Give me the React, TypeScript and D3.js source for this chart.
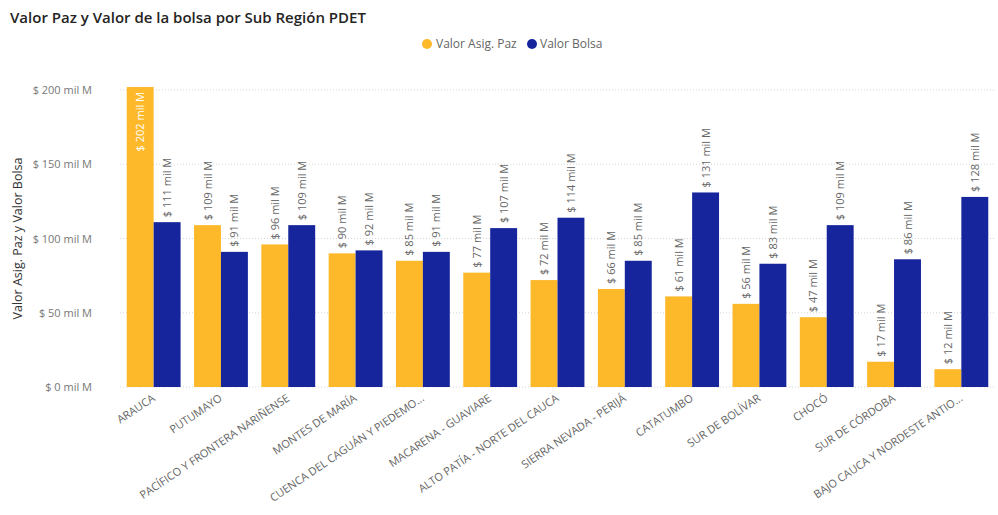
import React from 'react';
import * as d3 from 'd3';

const regions = [
  'ARAUCA',
  'PUTUMAYO',
  'PACÍFICO Y FRONTERA NARIÑENSE',
  'MONTES DE MARÍA',
  'CUENCA DEL CAGUÁN Y PIEDEMO...',
  'MACARENA - GUAVIARE',
  'ALTO PATÍA - NORTE DEL CAUCA',
  'SIERRA NEVADA - PERIJÁ',
  'CATATUMBO',
  'SUR DE BOLÍVAR',
  'CHOCÓ',
  'SUR DE CÓRDOBA',
  'BAJO CAUCA Y NORDESTE ANTIO...',
];
const valorPaz = [202, 109, 96, 90, 85, 77, 72, 66, 61, 56, 47, 17, 12];
const valorBolsa = [111, 91, 109, 92, 91, 107, 114, 85, 131, 83, 109, 86, 128];
const yTicks = [0, 50, 100, 150, 200];
const seriesNames = ['Valor Asig. Paz', 'Valor Bolsa'];

const W = 998;
const H = 515;
const ORANGE = '#FDB92A';
const BLUE = '#16259C';
const FONT = '"Open Sans", "Noto Sans", sans-serif';

const App: React.FC = () => {
  const x = d3.scaleBand<string>()
    .domain(regions)
    .range([120, 995])
    .paddingInner(0.2)
    .paddingOuter(0.1);
  const sub = d3.scaleBand<string>()
    .domain(seriesNames)
    .range([0, x.bandwidth()]);
  const y = d3.scaleLinear().domain([0, 200]).range([387, 90]);

  const fmt = (v: number) => `$ ${v} mil M`;

  const bars = regions.flatMap((r, i) => [
    { r, s: seriesNames[0], v: valorPaz[i], color: ORANGE },
    { r, s: seriesNames[1], v: valorBolsa[i], color: BLUE },
  ]);

  return (
    <svg width={W} height={H} style={{ position: 'absolute', left: 0, top: 0, background: '#fff' }} fontFamily={FONT}>
      <text x={10} y={23} fontSize={15} fontWeight={600} fill="#252423">
        Valor Paz y Valor de la bolsa por Sub Región PDET
      </text>

      {/* legend */}
      <g fontSize={12} fill="#666">
        <circle cx={427} cy={44} r={5} fill={ORANGE} />
        <text x={436} y={48}>{seriesNames[0]}</text>
        <circle cx={532} cy={44} r={5} fill={BLUE} />
        <text x={540} y={48}>{seriesNames[1]}</text>
      </g>

      {/* y axis */}
      {yTicks.map(t => (
        <g key={t}>
          <line x1={120} x2={995} y1={y(t)} y2={y(t)} stroke="#d6d6d6" strokeDasharray="1,2" />
          <text x={92} y={y(t) + 4} textAnchor="end" fontSize={11} fill="#777">{fmt(t)}</text>
        </g>
      ))}
      <text
        transform={`translate(22,${y(100)}) rotate(-90)`}
        textAnchor="middle"
        fontSize={12.5}
        fill="#333"
      >
        Valor Asig. Paz y Valor Bolsa
      </text>

      {/* bars */}
      {bars.map(b => {
        const bx = (x(b.r) ?? 0) + (sub(b.s) ?? 0);
        const top = y(b.v);
        const cx = bx + sub.bandwidth() / 2;
        const inside = b.v > 190;
        return (
          <g key={b.r + b.s}>
            <rect x={bx} y={top} width={sub.bandwidth()} height={y(0) - top} fill={b.color} />
            <text
              transform={`translate(${cx + 4},${inside ? top + 5 : top - 5}) rotate(-90)`}
              textAnchor={inside ? 'end' : 'start'}
              fontSize={11}
              fill={inside ? '#fff' : '#666'}
            >
              {fmt(b.v)}
            </text>
          </g>
        );
      })}

      {/* x labels */}
      {regions.map(r => (
        <text
          key={r}
          transform={`translate(${(x(r) ?? 0) + x.bandwidth() / 2 + 2},${y(0) + 13}) rotate(-34)`}
          textAnchor="end"
          fontSize={11}
          fill="#666"
        >
          {r}
        </text>
      ))}
    </svg>
  );
};

export default App;
